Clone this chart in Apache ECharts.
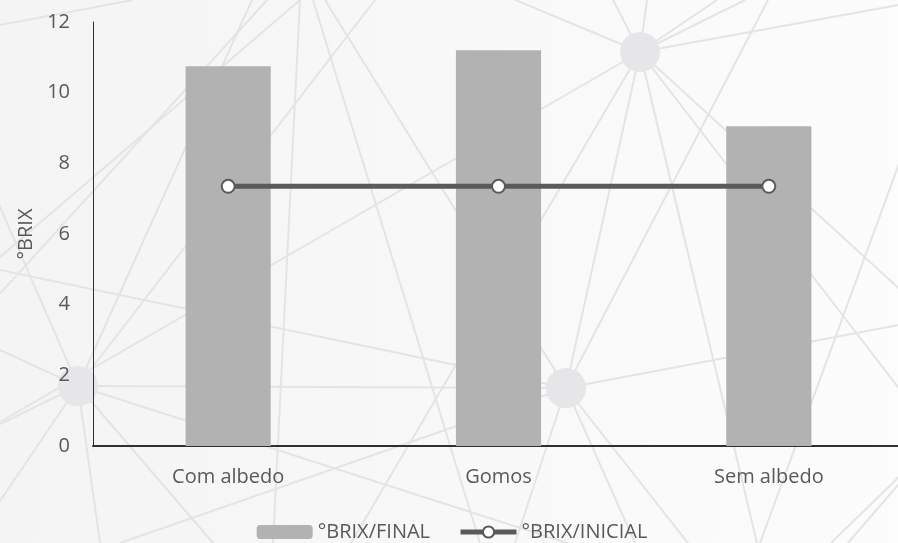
<!DOCTYPE html>
<html>
<head>
<meta charset="utf-8">
<style>
  html, body { margin: 0; padding: 0; background: #f7f7f7; overflow: hidden; }
  #chart { width: 904px; height: 543px; }
</style>
<script src="https://cdn.jsdelivr.net/npm/echarts@6/dist/echarts.min.js"></script>
</head>
<body>
<div id="chart"></div>
<script>
// Sample groups and measured Brix values
const categories = ['Com albedo', 'Gomos', 'Sem albedo'];
const brixFinal = [10.75, 11.2, 9.05];
const brixInicial = [7.35, 7.35, 7.35];
const yTicks = { min: 0, max: 12, interval: 2 };
const seriesNames = ['°BRIX/FINAL', '°BRIX/INICIAL'];
const yAxisTitle = '°BRIX';

// Decorative network backdrop: hub circles and connecting strands
const hubs = [[640, 52], [566, 388], [78, 386]];
const strands = [
  // from the upper hub
  [640, 52, 300, -90], [640, 52, 613, 0], [640, 52, 647, 0], [640, 52, 717, 0],
  [640, 52, 745, 0], [640, 52, 904, 4], [640, 52, 0, 422], [640, 52, 351, 543],
  [640, 52, 566, 388], [640, 52, 757, 543], [640, 52, 904, 395], [640, 52, 904, 293],
  // from the lower middle hub
  [566, 388, 78, 386], [566, 388, 904, 324], [566, 388, 768, 0], [566, 388, 325, 0],
  [566, 388, 0, 270], [566, 388, 515, 543], [566, 388, 120, 543], [566, 388, 688, 543],
  [566, 388, 635, 543],
  // from the left hub
  [78, 386, -90, 0], [78, 386, 252, 0], [78, 386, 375, 0], [78, 386, 0, 350],
  [78, 386, 0, 424], [78, 386, 0, 501], [78, 386, 100, 543], [78, 386, 213, 543],
  [78, 386, 620, 560],
  // loose crossing strands
  [0, 25, 133, 0], [267, 0, -84, 386], [300, 0, 273, 543], [313, 0, 480, 543],
  [300, 0, 0, 257], [904, 472, 831, 543], [904, 478, 848, 543], [904, 150, 760, 543]
];

const bgGraphics = [
  {
    type: 'rect', z: -20, silent: true,
    shape: { x: 0, y: 0, width: 904, height: 543 },
    style: {
      fill: new echarts.graphic.LinearGradient(0, 0, 1, 0, [
        { offset: 0, color: '#f4f4f4' },
        { offset: 1, color: '#fcfcfc' }
      ])
    }
  }
].concat(strands.map(s => ({
  type: 'line', z: -15, silent: true,
  shape: { x1: s[0], y1: s[1], x2: s[2], y2: s[3] },
  style: { stroke: '#e4e4e4', lineWidth: 2 }
}))).concat(hubs.map(h => ({
  type: 'circle', z: -10, silent: true,
  shape: { cx: h[0], cy: h[1], r: 20 },
  style: { fill: '#e6e6e8' }
})));

const labelFont = { color: '#595959', fontSize: 20, fontFamily: '"Open Sans", sans-serif' };
const lineColor = '#5a5a5a';

const chart = echarts.init(document.getElementById('chart'));
chart.setOption({
  animation: false,
  backgroundColor: 'transparent',
  graphic: bgGraphics,
  grid: { left: 93, top: 22, right: 0, bottom: 97, containLabel: false },
  legend: {
    data: [
      { name: seriesNames[0] },
      {
        name: seriesNames[1],
        lineStyle: { color: lineColor, width: 5 },
        itemStyle: { color: '#ffffff', borderColor: lineColor, borderWidth: 2 }
      }
    ],
    top: 517,
    left: 'center',
    itemWidth: 56,
    itemHeight: 14,
    itemGap: 28,
    textStyle: labelFont
  },
  xAxis: {
    type: 'category',
    data: categories,
    axisLine: { lineStyle: { color: '#303030', width: 2 } },
    axisTick: { show: false },
    axisLabel: Object.assign({ margin: 21 }, labelFont),
    splitLine: { show: false }
  },
  yAxis: {
    type: 'value',
    min: yTicks.min,
    max: yTicks.max,
    interval: yTicks.interval,
    name: yAxisTitle,
    nameLocation: 'middle',
    nameGap: 57,
    nameRotate: 90,
    nameTextStyle: labelFont,
    axisLine: { show: true, lineStyle: { color: '#303030', width: 1 } },
    axisTick: { show: false },
    axisLabel: Object.assign({ margin: 23 }, labelFont),
    splitLine: { show: false }
  },
  series: [
    {
      name: seriesNames[0],
      type: 'bar',
      data: brixFinal,
      barWidth: '31.5%',
      itemStyle: { color: '#b2b2b2' }
    },
    {
      name: seriesNames[1],
      type: 'line',
      data: brixInicial,
      symbol: 'circle',
      symbolSize: 13,
      lineStyle: { color: lineColor, width: 5 },
      itemStyle: { color: '#ffffff', borderColor: lineColor, borderWidth: 2 }
    }
  ]
});
</script>
</body>
</html>
